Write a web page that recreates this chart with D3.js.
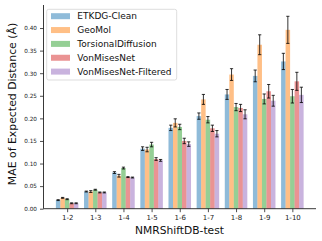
<!DOCTYPE html>
<html>
<head>
<meta charset="utf-8">
<script src="https://cdn.jsdelivr.net/npm/d3@7"></script>
<style>
  body { margin: 0; background: #fff; }
  svg { display: block; font-family: "DejaVu Sans", sans-serif; }
</style>
</head>
<body>
<svg id="chart1" width="322" height="241"></svg>
<script>
// tick labels along the bottom
var categories = ["1-2", "1-3", "1-4", "1-5", "1-6", "1-7", "1-8", "1-9", "1-10"];
var seriesNames = ["ETKDG-Clean", "GeoMol", "TorsionalDiffusion", "VonMisesNet", "VonMisesNet-Filtered"];
var yTicks = [0, 0.05, 0.10, 0.15, 0.20, 0.25, 0.30, 0.35, 0.40];

// mean values
var etkdg     = [0.019, 0.038, 0.080, 0.133, 0.179, 0.205, 0.253, 0.294, 0.326];
var geomol    = [0.024, 0.038, 0.073, 0.131, 0.190, 0.242, 0.297, 0.363, 0.396];
var torsional = [0.021, 0.042, 0.090, 0.142, 0.181, 0.197, 0.225, 0.243, 0.249];
var vonmises  = [0.012, 0.036, 0.070, 0.110, 0.150, 0.178, 0.223, 0.260, 0.282];
var filtered  = [0.012, 0.036, 0.069, 0.107, 0.143, 0.166, 0.209, 0.239, 0.252];

// error bar half-widths
var etkdgErr     = [0.001, 0.001, 0.002, 0.004, 0.006, 0.007, 0.011, 0.013, 0.018];
var geomolErr    = [0.001, 0.002, 0.003, 0.005, 0.009, 0.011, 0.013, 0.022, 0.030];
var torsionalErr = [0.001, 0.001, 0.002, 0.005, 0.006, 0.007, 0.008, 0.011, 0.015];
var vonmisesErr  = [0.001, 0.001, 0.001, 0.003, 0.006, 0.007, 0.008, 0.015, 0.020];
var filteredErr  = [0.001, 0.001, 0.001, 0.002, 0.005, 0.007, 0.010, 0.012, 0.017];

var colors = ["#1f77b4", "#ff7f0e", "#2ca02c", "#d62728", "#9467bd"];

var values = [etkdg, geomol, torsional, vonmises, filtered];
var errors = [etkdgErr, geomolErr, torsionalErr, vonmisesErr, filteredErr];

var svg = d3.select("#chart1");

var plotLeft = 43.5, plotRight = 316, plotTop = 5, plotBottom = 208.7;
var barW = 0.16;

var x = d3.scaleLinear()
  .domain([-0.84, categories.length - 1 + 0.84])
  .range([plotLeft, plotRight]);

var y = d3.scaleLinear()
  .domain([0, 0.451])
  .range([plotBottom, plotTop]);

// flatten into bar records
var bars = [];
values.forEach(function(arr, s) {
  arr.forEach(function(v, i) {
    bars.push({
      s: s,
      i: i,
      value: v,
      err: errors[s][i],
      cx: i + (s - 2) * barW
    });
  });
});

var plot = svg.append("g");

plot.selectAll(".bar")
  .data(bars)
  .enter().append("rect")
  .attr("class", "bar")
  .attr("x", function(d) { return x(d.cx - barW / 2); })
  .attr("width", function(d) { return x(d.cx + barW / 2) - x(d.cx - barW / 2); })
  .attr("y", function(d) { return y(d.value); })
  .attr("height", function(d) { return y(0) - y(d.value); })
  .attr("fill", function(d) { return colors[d.s]; })
  .attr("fill-opacity", 0.5);

// error bars
var eb = plot.selectAll(".err")
  .data(bars)
  .enter().append("g")
  .attr("class", "err")
  .attr("stroke", "#000")
  .attr("stroke-opacity", 0.8)
  .attr("stroke-width", 1);

eb.append("line")
  .attr("x1", function(d) { return x(d.cx); })
  .attr("x2", function(d) { return x(d.cx); })
  .attr("y1", function(d) { return y(d.value - d.err); })
  .attr("y2", function(d) { return y(d.value + d.err); });

eb.append("line")
  .attr("x1", function(d) { return x(d.cx) - 1.6; })
  .attr("x2", function(d) { return x(d.cx) + 1.6; })
  .attr("y1", function(d) { return y(d.value + d.err); })
  .attr("y2", function(d) { return y(d.value + d.err); });

eb.append("line")
  .attr("x1", function(d) { return x(d.cx) - 1.6; })
  .attr("x2", function(d) { return x(d.cx) + 1.6; })
  .attr("y1", function(d) { return y(d.value - d.err); })
  .attr("y2", function(d) { return y(d.value - d.err); });

// axes
var yAxis = d3.axisLeft(y)
  .tickValues(yTicks)
  .tickFormat(d3.format(".2f"))
  .tickSize(3.5)
  .tickPadding(3)
  .tickSizeOuter(0);

var gy = svg.append("g")
  .attr("transform", "translate(" + plotLeft + ",0)")
  .call(yAxis);
gy.select(".domain").attr("d", "M0," + plotTop + "V" + plotBottom);
gy.selectAll("text").attr("font-size", 5.7).attr("fill", "#222").attr("font-family", "DejaVu Sans");

var xAxis = d3.axisBottom(x)
  .tickValues(d3.range(categories.length))
  .tickFormat(function(i) { return categories[i]; })
  .tickSize(3.5)
  .tickPadding(2.5)
  .tickSizeOuter(0);

var gx = svg.append("g")
  .attr("transform", "translate(0," + plotBottom + ")")
  .call(xAxis);
gx.select(".domain").attr("d", "M" + plotLeft + ",0H" + plotRight);
gx.selectAll("text").attr("font-size", 7).attr("fill", "#222").attr("font-family", "DejaVu Sans");

svg.selectAll(".domain").attr("stroke", "#222").attr("stroke-width", 0.9);
svg.selectAll(".tick line").attr("stroke", "#222").attr("stroke-width", 0.8);

// axis titles
svg.append("text")
  .attr("x", 179.5)
  .attr("y", 234)
  .attr("text-anchor", "middle")
  .attr("font-size", 10.7)
  .attr("fill", "#111")
  .text("NMRShiftDB-test");

svg.append("text")
  .attr("transform", "translate(12.8,104) rotate(-90)")
  .attr("text-anchor", "middle")
  .attr("dominant-baseline", "central")
  .attr("font-size", 10.9)
  .attr("fill", "#111")
  .text("MAE of Expected Distance (Å)");

// legend
var legend = svg.append("g");
legend.append("rect")
  .attr("x", 46.7)
  .attr("y", 9.3)
  .attr("width", 130)
  .attr("height", 70.7)
  .attr("rx", 2)
  .attr("fill", "#fff")
  .attr("fill-opacity", 0.8)
  .attr("stroke", "#d4d4d4")
  .attr("stroke-width", 0.8);

var rows = legend.selectAll(".row")
  .data(seriesNames)
  .enter().append("g")
  .attr("class", "row")
  .attr("transform", function(d, i) { return "translate(0," + (16.2 + i * 13.85) + ")"; });

rows.append("rect")
  .attr("x", 51)
  .attr("y", -3)
  .attr("width", 19)
  .attr("height", 6)
  .attr("fill", function(d, i) { return colors[i]; })
  .attr("fill-opacity", 0.5);

rows.append("text")
  .attr("x", 77.3)
  .attr("dominant-baseline", "central")
  .attr("font-size", 9)
  .attr("fill", "#111")
  .text(function(d) { return d; });
</script>
</body>
</html>
